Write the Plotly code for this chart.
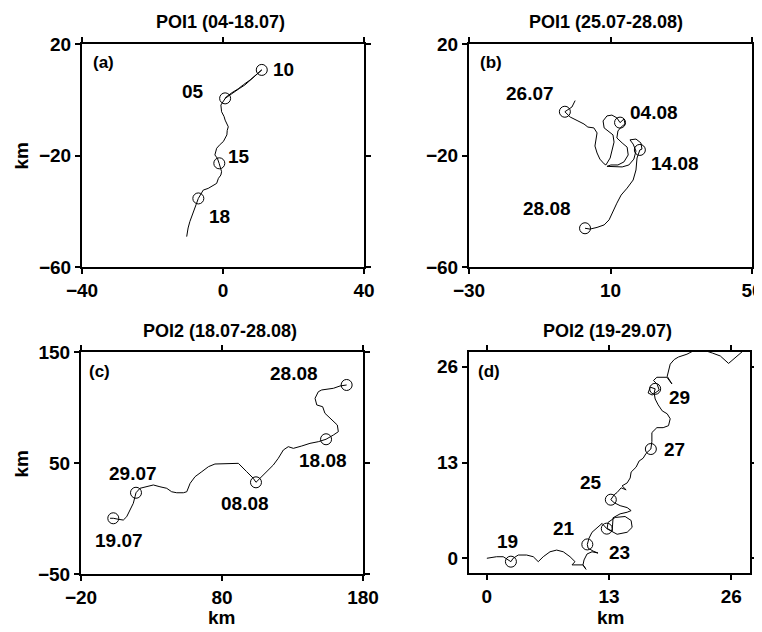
import plotly.graph_objects as go

# ---------------- data (km) ----------------
# Panel (a) POI1 04-18.07
a_x = [0.6, 2.0, 3.4, 4.6, 6.2, 7.0, 8.1, 9.5, 11.0, 9.8, 7.7, 5.8, 4.3, 2.5, 0.9, -0.6, -0.4, 0.3, 0.6,
       1.5, 1.2, 1.1, 0.1, -0.8, -1.8, -2.3, -1.6, -1.1, -0.4, -0.6, -1.3, -1.8, -3.0, -4.2, -5.6,
       -7.0, -7.6, -8.4, -9.0, -9.4, -9.9, -10.3]
a_y = [0.5, 1.8, 2.9, 4.0, 5.3, 6.2, 7.7, 9.0, 10.7, 9.4, 7.1, 5.4, 3.9, 2.5, 1.0, -1.9, -4.3, -6.0, -7.3,
       -9.7, -11.0, -12.6, -15.0, -16.0, -17.4, -19.8, -21.0, -22.8, -25.8, -27.0, -28.2, -30.0, -30.8,
       -31.8, -32.4, -35.4, -37.5, -40.2, -42.0, -43.7, -46.0, -49.1]
a_mx = [0.6, 11.0, -1.05, -7.0]
a_my = [0.5, 10.7, -22.8, -35.4]
a_lab = ["05", "10", "15", "18"]
a_lx = [-8.6, 17.3, 4.6, -1.0]
a_ly = [2.9, 10.7, -20.4, -42.0]

# Panel (b) POI1 25.07-28.08
b_x = [0.0, -0.9, -2.9, -1.4, 0.8, 2.5, 3.6, 5.3, 6.2, 5.9, 5.6, 6.2, 7.0, 8.2, 8.7, 9.9, 10.4, 11.0,
       10.7, 8.2, 7.9, 9.0, 10.4, 11.8, 12.7, 13.8, 14.1, 13.0, 12.1, 11.8, 13.3, 14.7, 15.0, 13.8,
       12.1, 10.1, 9.0, 11.0, 13.3, 15.2, 16.6, 17.2, 16.4, 15.5, 17.2, 18.6, 18.9, 18.3, 17.5, 17.2,
       16.4, 14.7, 13.0, 11.8, 10.7, 9.6, 8.2, 6.2, 4.2, 2.8]
b_y = [-0.3, -2.6, -4.3, -6.2, -7.6, -8.7, -9.8, -10.1, -11.9, -14.4, -16.6, -19.1, -21.3, -23.0, -23.4,
       -20.9, -18.0, -15.2, -12.6, -10.1, -7.6, -5.8, -5.5, -6.5, -8.2, -6.9, -8.7, -9.8, -11.2, -13.7,
       -15.5, -17.0, -19.8, -22.3, -23.4, -23.4, -23.9, -24.1, -24.1, -23.4, -21.3, -18.4, -15.9, -14.4,
       -14.1, -15.5, -17.7, -18.0, -20.9, -25.2, -28.8, -31.7, -34.2, -37.1, -40.3, -43.1, -44.9, -45.8,
       -46.4, -46.1]
b_mx = [-2.9, 12.7, 18.3, 2.8]
b_my = [-4.3, -8.2, -18.0, -46.1]
b_lab = ["26.07", "04.08", "14.08", "28.08"]
b_lx = [-12.8, 22.3, 28.2, -7.9]
b_ly = [2.3, -4.6, -22.8, -38.9]

# Panel (c) POI2 18.07-28.08
c_x = [0.6, 2.9, 6.5, 10.0, 12.4, 14.8, 17.1, 18.3, 19.0, 21.8, 26.6, 31.3, 36.0, 40.8, 44.3, 47.9,
       52.6, 55.0, 57.4, 60.9, 65.7, 70.4, 75.0, 83.3, 91.6, 97.5, 102.2, 104.1, 107.0, 111.7, 116.4,
       119.9, 123.5, 127.0, 130.6, 136.5, 142.4, 148.3, 153.8, 159.0, 162.5, 161.8, 157.8, 153.0,
       151.4, 147.2, 146.0, 148.3, 150.7, 159.0, 163.7, 168.4]
c_y = [0.2, 0.2, -0.7, -1.4, 1.6, 7.7, 13.7, 19.6, 23.2, 27.2, 28.6, 30.2, 28.6, 27.2, 24.1, 23.2,
       23.2, 24.1, 31.7, 37.7, 42.2, 46.7, 49.1, 49.7, 49.7, 42.2, 36.2, 32.6, 36.2, 42.2, 48.2, 54.2,
       61.7, 64.7, 63.2, 65.3, 67.7, 69.2, 71.4, 75.2, 78.2, 84.2, 88.7, 94.8, 100.7, 102.3, 108.3,
       114.2, 115.8, 117.3, 119.4, 120.3]
c_mx = [2.9, 19.0, 104.1, 153.8, 168.4]
c_my = [0.2, 23.2, 32.6, 71.4, 120.3]
c_lab = ["19.07", "29.07", "08.08", "18.08", "28.08"]
c_lx = [7.2, 16.7, 96.3, 151.4, 131.1]
c_ly = [-19.4, 40.7, 13.7, 52.7, 130.2]

# Panel (d) POI2 19-29.07
d_x = [0.0, 1.03, 1.74, 2.56, 2.80, 3.34, 4.23, 4.94, 5.47, 6.0, 6.72, 7.43, 8.13, 8.85, 9.38, 9.06,
       10.23, 10.55, 10.23, 10.34, 10.66, 11.19, 11.83, 11.3, 10.77, 10.69, 10.87, 11.19, 11.73, 12.26,
       12.76, 13.11, 13.86, 14.93, 15.46, 15.35, 14.71, 13.65, 12.9, 12.8, 13.33, 13.43, 14.18, 14.93,
       15.35, 14.93, 14.18, 13.54, 13.19, 13.54, 13.86, 14.29, 14.82, 14.39, 14.93, 15.25, 15.35, 15.88,
       16.2, 16.63, 16.95, 17.45, 17.56, 17.56, 18.09, 18.76, 19.33, 19.51, 19.19, 18.66, 18.23, 17.91,
       17.8, 17.91, 17.38, 17.16, 17.59, 18.34, 18.12, 17.73, 18.09, 19.16, 19.69, 19.19, 19.33, 19.51,
       19.94, 20.39, 21.29, 22.5, 23.99, 24.84, 25.72, 26.23, 26.76, 27.19, 27.8]
d_y = [0.0, 0.21, 0.21, -0.46, 0.0, 0.44, 0.44, 0.21, -0.46, 0.21, 0.88, 1.11, 0.88, 0.21, -0.46, -0.9,
       -0.9, -1.5, -0.9, -0.23, 0.58, 0.88, 0.71, 0.98, 1.38, 1.88, 2.72, 3.53, 4.2, 4.73, 4.02, 3.79,
       3.26, 3.53, 4.2, 5.13, 5.67, 5.54, 4.87, 4.06, 3.66, 5.5, 6.03, 6.25, 6.47, 6.88, 7.14, 7.55, 7.95,
       8.62, 8.93, 9.56, 9.29, 9.83, 10.23, 10.9, 11.7, 12.37, 13.2, 13.58, 14.25, 14.83, 15.86, 17.06,
       17.73, 17.73, 18.0, 18.94, 19.61, 20.01, 20.82, 21.62, 22.43, 23.0, 23.23, 22.43, 22.16, 22.83,
       23.63, 24.13, 24.57, 24.57, 23.67, 24.7, 25.51, 26.35, 26.98, 27.32, 27.7, 28.5, 27.86, 27.46,
       26.45, 26.98, 27.52, 28.06, 28.5]
d_mx = [2.56, 10.69, 12.76, 13.19, 17.45, 17.91]
d_my = [-0.46, 1.88, 4.02, 7.95, 14.83, 23.0]
d_lab = ["19", "21", "23", "25", "27", "29"]
d_lx = [2.16, 8.21, 14.07, 11.09, 19.97, 20.5]
d_ly = [2.32, 4.02, 0.75, 10.27, 14.83, 21.76]

panels = [
    dict(x=a_x, y=a_y, mx=a_mx, my=a_my, lab=a_lab, lx=a_lx, ly=a_ly, tag="(a)",
         title="POI1 (04-18.07)", xr=[-40, 40], yr=[-60, 20], xt=[-40, 0, 40], yt=[-60, -20, 20]),
    dict(x=b_x, y=b_y, mx=b_mx, my=b_my, lab=b_lab, lx=b_lx, ly=b_ly, tag="(b)",
         title="POI1 (25.07-28.08)", xr=[-30, 50], yr=[-60, 20], xt=[-30, 10, 50], yt=[-60, -20, 20]),
    dict(x=c_x, y=c_y, mx=c_mx, my=c_my, lab=c_lab, lx=c_lx, ly=c_ly, tag="(c)",
         title="POI2 (18.07-28.08)", xr=[-20, 180], yr=[-50, 150], xt=[-20, 80, 180], yt=[-50, 50, 150]),
    dict(x=d_x, y=d_y, mx=d_mx, my=d_my, lab=d_lab, lx=d_lx, ly=d_ly, tag="(d)",
         title="POI2 (19-29.07)", xr=[-1.9, 28], yr=[-2, 28], xt=[0, 13, 26], yt=[0, 13, 26]),
]

# The page body has an 8px margin: size the figure to the visible area and shift coordinates.
OFF = 8
W, H = 762 - OFF, 632 - OFF
# pixel frames in window coordinates (left, right, top, bottom)
frames = [(82, 364, 44, 267), (469, 752, 44, 267), (81, 363, 352, 574), (469, 750, 352, 573)]
title_pos = [(220, 22), (606, 22), (220, 331), (607, 331)]
tag_pos = [(0.078, 0.919), (0.078, 0.918), (0.067, 0.911), (0.072, 0.914)]


def px(x):
    return (x - OFF) / W


def py(y):
    return 1 - (y - OFF) / H


FONT = "Liberation Sans, Arial, sans-serif"
fig = go.Figure()
annotations = []
layout = {}
for i, p in enumerate(panels):
    n = "" if i == 0 else str(i + 1)
    xa, ya = "x" + n, "y" + n
    fig.add_trace(go.Scatter(x=p["x"], y=p["y"], mode="lines", line=dict(color="black", width=1),
                             xaxis=xa, yaxis=ya, showlegend=False, hoverinfo="skip"))
    fig.add_trace(go.Scatter(x=p["mx"], y=p["my"], mode="markers",
                             marker=dict(symbol="circle-open", size=11, color="black", line=dict(width=1)),
                             xaxis=xa, yaxis=ya, showlegend=False, hoverinfo="skip"))
    for t, lx, ly in zip(p["lab"], p["lx"], p["ly"]):
        annotations.append(dict(x=lx, y=ly, xref=xa, yref=ya, text=t, showarrow=False,
                                font=dict(family=FONT, size=19, color="black", weight="bold")))
    l, r, t_, b = frames[i]
    common = dict(showline=True, linecolor="black", linewidth=2, mirror="ticks", ticks="outside",
                  ticklen=5, tickwidth=1.5, tickcolor="black", showgrid=False, zeroline=False,
                  automargin=False, ticklabeloverflow="allow",
                  tickfont=dict(family=FONT, size=19, color="black", weight="bold"))
    layout["xaxis" + n] = dict(domain=[px(l), px(r)], range=p["xr"], tickvals=p["xt"], anchor=ya, **common)
    layout["yaxis" + n] = dict(domain=[py(b), py(t_)], range=p["yr"], tickvals=p["yt"], anchor=xa, **common)
    tx, ty = title_pos[i]
    annotations.append(dict(x=px(tx), y=py(ty), xref="paper", yref="paper", text=p["title"],
                            showarrow=False, xanchor="center", yanchor="middle",
                            font=dict(family=FONT, size=18, color="black", weight="bold")))
    gx, gy = tag_pos[i]
    annotations.append(dict(x=gx, y=gy, xref=xa + " domain", yref=ya + " domain", text=p["tag"],
                            showarrow=False, xanchor="center", yanchor="middle",
                            font=dict(family=FONT, size=17, color="black", weight="bold")))

for (x, y, ang) in [(20.5, 156, -90), (20.5, 464, -90), (222, 617, 0), (610, 617, 0)]:
    annotations.append(dict(x=px(x), y=py(y), xref="paper", yref="paper", text="km", showarrow=False,
                            textangle=ang, xanchor="center", yanchor="middle",
                            font=dict(family=FONT, size=19, color="black", weight="bold")))

fig.update_layout(template="none", width=W, height=H, margin=dict(l=0, r=0, t=0, b=0),
                  plot_bgcolor="white", paper_bgcolor="white", annotations=annotations, **layout)
fig.write_html("out.html")
